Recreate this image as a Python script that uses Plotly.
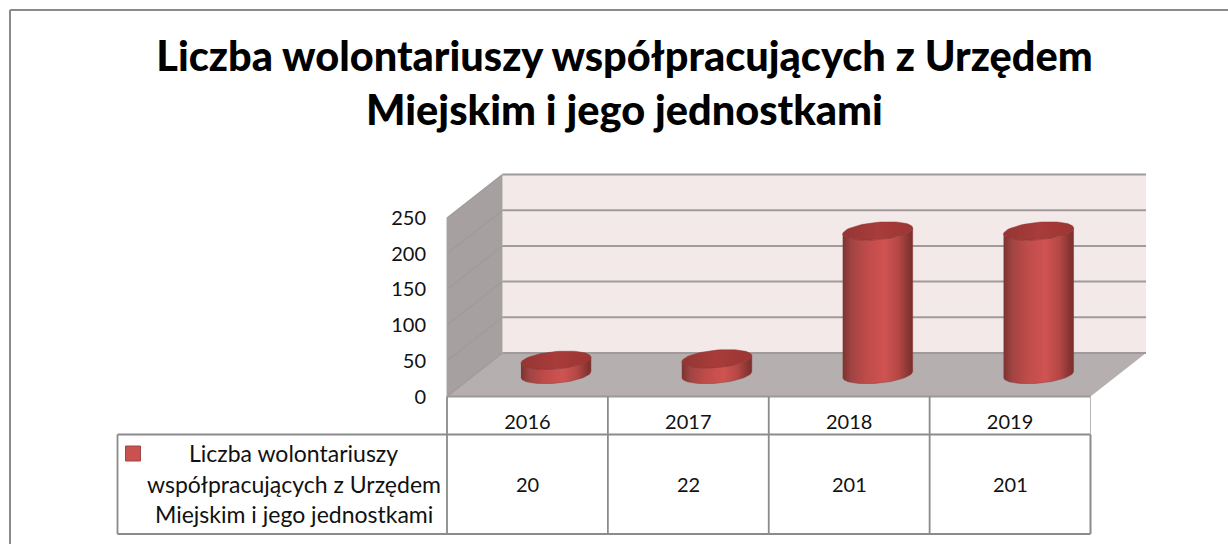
import numpy as np
import plotly.graph_objects as go

TITLE = "Liczba wolontariuszy współpracujących z Urzędem<br>Miejskim i jego jednostkami"
YEARS = ["2016", "2017", "2018", "2019"]
VALUES = [20, 22, 201, 201]
Y_TICKS = [0, 50, 100, 150, 200, 250]
SERIES_NAME = ["Liczba wolontariuszy", "współpracujących z Urzędem", "Miejskim i jego jednostkami"]

W, H = 1228, 544
FONT = "Lato"
TEXT = "#111111"
LINE = "#8b8b8b"
GRID = "#a09b9a"


def px(x):
    return x / W


def py(y):
    return 1 - y / H


# plot geometry in page pixels
X0, X1 = 447, 1090.5
Y0, Y1 = 396.5, 218
DX, DY = 55.5, 43.5
CX, CY = 28.5, 22
CAT_W = (X1 - X0) / 4
VAL_K = (Y0 - Y1) / 250
RX, RY, TILT = 35, 8.7, 0.085
Y2_MIN, Y2_MAX = -40, 280

fig = go.Figure()


def ellipse_points(theta, i, value):
    dx = RX * np.cos(theta)
    dy = TILT * dx + RY * np.sin(theta)
    return i + dx / CAT_W, value + dy / VAL_K


SIDE_SCALE = [
    [0.0, "#7c3331"], [0.12, "#a04442"], [0.35, "#c04c4a"], [0.6, "#cf5351"],
    [0.8, "#b44745"], [0.93, "#8c3633"], [1.0, "#78302c"],
]
CAP_SCALE = [[0.0, "#943634"], [0.5, "#a83c3a"], [1.0, "#9c3533"]]

for i, v in enumerate(VALUES):
    lower = np.linspace(np.pi, 2 * np.pi, 40)
    upper = lower[::-1]
    xb, yb = ellipse_points(lower, i, 0)
    xt, yt = ellipse_points(upper, i, v)
    fig.add_trace(go.Scatter(
        x=np.r_[xb, xt], y=np.r_[yb, yt], xaxis="x2", yaxis="y2",
        mode="lines", line=dict(width=0.5, color="#8a3734"), fill="toself",
        fillgradient=dict(type="horizontal", colorscale=SIDE_SCALE),
        hoverinfo="skip", showlegend=False,
    ))
    cap = np.linspace(0, 2 * np.pi, 73)
    xc, yc = ellipse_points(cap, i, v)
    fig.add_trace(go.Scatter(
        x=xc, y=yc, xaxis="x2", yaxis="y2",
        mode="lines", line=dict(width=0.5, color="#8a3432"), fill="toself",
        fillgradient=dict(type="horizontal", colorscale=CAP_SCALE),
        hoverinfo="skip", showlegend=False,
    ))

# data row of the table, placed on the category axis
for i, v in enumerate(VALUES):
    fig.add_annotation(x=i, xref="x", y=py(484), yref="paper", text=str(v), showarrow=False,
                       font=dict(family=FONT, size=20, color=TEXT), xanchor="center", yanchor="middle")

for line, yy in zip(SERIES_NAME, [453, 484, 514]):
    fig.add_annotation(x=px(293.5), xref="paper", y=py(yy), yref="paper", text=line, showarrow=False,
                       font=dict(family=FONT, size=23, color=TEXT), xanchor="center", yanchor="middle")


def poly(points, fill, line=None, width=0):
    path = "M " + " L ".join(f"{px(a):.5f},{py(b):.5f}" for a, b in points) + " Z"
    return dict(type="path", path=path, xref="paper", yref="paper", layer="below",
                fillcolor=fill, line=dict(width=width, color=line or fill))


def seg(x0, y0, x1, y1, color=LINE, width=1.8, layer="below"):
    return dict(type="line", xref="paper", yref="paper", x0=px(x0), y0=py(y0), x1=px(x1), y1=py(y1),
                line=dict(color=color, width=width), layer=layer)


shapes = [
    seg(10, 10, W, 10, width=2),
    seg(10, 10, 10, H, width=2),
    poly([(X0 + DX, Y1 - DY), (X1 + DX, Y1 - DY), (X1 + DX, Y0 - DY), (X0 + DX, Y0 - DY)], "#f3e9e9"),
    poly([(X0, Y1), (X0 + DX, Y1 - DY), (X0 + DX, Y0 - DY), (X0, Y0)], "#a6a1a0"),
    poly([(X0, Y0), (X1, Y0), (X1 + DX, Y0 - DY), (X0 + DX, Y0 - DY)], "#b5b0af"),
]
for t in Y_TICKS:
    yy = Y0 - t * VAL_K
    shapes.append(seg(X0, yy, X0 + DX, yy - DY, color=GRID, width=1.3))
    shapes.append(seg(X0 + DX, yy - DY, X1 + DX, yy - DY, color=GRID, width=2))
shapes.append(seg(X0, Y1, X0, Y0, color="#a9a5a4", width=1))

# table
TABLE_Y = [396.5, 434.5, 534]
TABLE_X = [X0 + CAT_W * k for k in range(5)]
shapes.append(seg(X0, TABLE_Y[0], X1, TABLE_Y[0], color="#9a9a9a"))
shapes.append(seg(117.5, TABLE_Y[1], X1, TABLE_Y[1]))
shapes.append(seg(117.5, TABLE_Y[2], X1, TABLE_Y[2]))
shapes.append(seg(117.5, TABLE_Y[1], 117.5, TABLE_Y[2]))
for xx in TABLE_X[:-1]:
    shapes.append(seg(xx, TABLE_Y[0], xx, TABLE_Y[2]))
shapes.append(seg(X1, TABLE_Y[0], X1, TABLE_Y[1], width=1, color="#b5b5b5"))
shapes.append(seg(X1, TABLE_Y[1], X1, TABLE_Y[2], width=2))
# legend key
shapes.append(dict(type="rect", xref="paper", yref="paper", x0=px(125.5), x1=px(140.5), y0=py(446), y1=py(461),
                   fillcolor="#c9514f", line=dict(color="#a04543", width=1), layer="below"))

y2_pix_bottom = Y0 - CY - Y2_MIN * VAL_K
y2_pix_top = Y0 - CY - Y2_MAX * VAL_K

fig.update_layout(
    width=W, height=H, margin=dict(l=0, r=0, t=0, b=0, autoexpand=False), autosize=False,
    paper_bgcolor="white", plot_bgcolor="rgba(0,0,0,0)", shapes=shapes, showlegend=False,
    title=dict(text=TITLE, x=px(624.5), xanchor="center", xref="paper", y=py(71), yanchor="bottom", yref="container",
               automargin=False,
               font=dict(family=FONT, size=41.5, color="#000000", weight=900), pad=dict(t=0, b=0)),
    xaxis=dict(domain=[px(X0), px(X1)], range=[-0.5, 3.5], tickmode="array", tickvals=list(range(4)),
               ticktext=YEARS, showgrid=False, zeroline=False, showline=False, ticks="", automargin=False,
               ticklabelstandoff=11, tickfont=dict(family=FONT, size=20, color=TEXT), anchor="y"),
    yaxis=dict(domain=[py(Y0), py(Y1)], range=[0, 250], tickmode="array", tickvals=Y_TICKS,
               showgrid=False, zeroline=False, showline=False, ticks="", automargin=False,
               ticklabelstandoff=20, tickfont=dict(family=FONT, size=20, color=TEXT), anchor="x"),
    xaxis2=dict(domain=[px(X0 + CX), px(X1 + CX)], range=[-0.5, 3.5], visible=False, anchor="y2", automargin=False),
    yaxis2=dict(domain=[py(y2_pix_bottom), py(y2_pix_top)], range=[Y2_MIN, Y2_MAX], visible=False, anchor="x2",
                automargin=False),
)

fig.write_html("out.html", post_script="document.body.style.margin='0';document.body.style.overflow='hidden';",
               config=dict(displayModeBar=False))
